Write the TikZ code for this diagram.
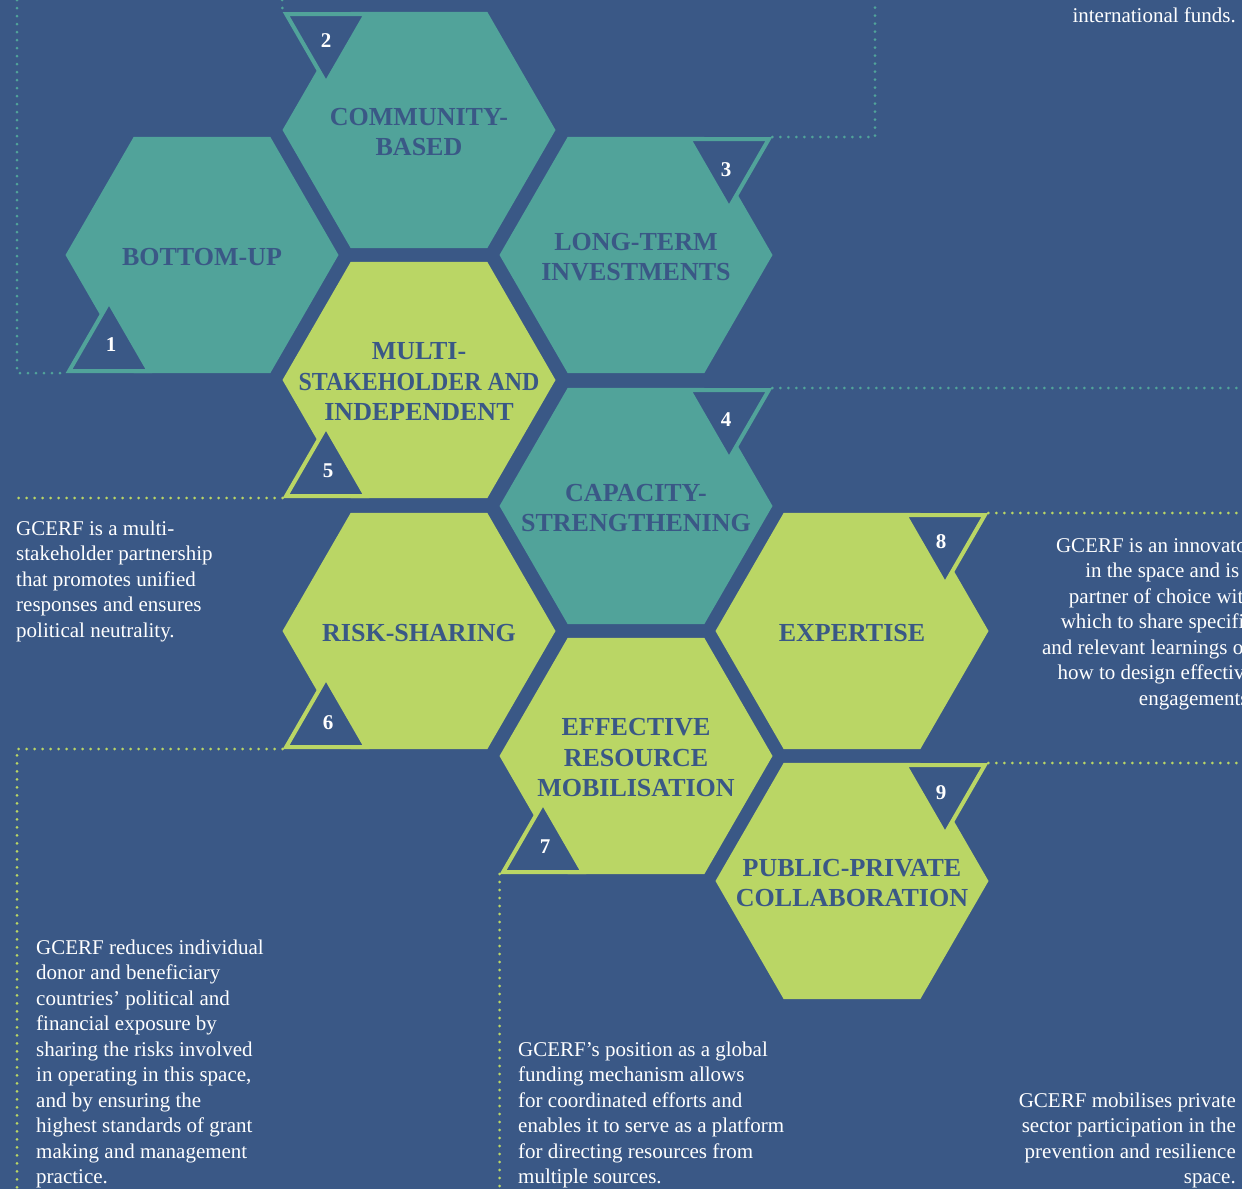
\documentclass[tikz,border=0pt]{standalone}
\usepackage{fontspec}
\setmainfont{Liberation Serif}
\usetikzlibrary{shapes.geometric,calc}
\definecolor{bg}{RGB}{58,88,134}
\definecolor{tealhex}{RGB}{81,163,154}
\definecolor{greenhex}{RGB}{186,214,101}

\begin{document}
\begin{tikzpicture}[x=1pt,y=-1pt,
    hexa/.style={regular polygon, regular polygon sides=6, minimum size=273pt, inner sep=0pt},
    hexlabel/.style={text=bg, align=center, inner sep=0pt, yshift=-2pt, font=\bfseries\fontsize{26}{30.5}\selectfont},
    numtri/.style={regular polygon, regular polygon sides=3, minimum size=92pt, inner sep=0pt,
        fill=bg, line width=4pt},
    downtri/.style={numtri, shape border rotate=180},
    numtext/.style={text=white, inner sep=0pt, font=\bfseries\fontsize{21}{21}\selectfont},
    dotline/.style={line width=3pt, dash pattern=on 0pt off 8pt, line cap=round},
    blurb/.style={text=white, inner sep=0pt, font=\fontsize{21}{25.5}\selectfont}]
    \useasboundingbox (0,0) rectangle (1242,1189);
    \fill[bg] (0,0) rectangle (1242,1189);
    \clip (0,0) rectangle (1242,1189);
    % hexagons
    \node[hexa, fill=tealhex] (h1) at (202,255) {};
    \node[hexa, fill=tealhex] (h2) at (419,130) {};
    \node[hexa, fill=tealhex] (h3) at (636,255) {};
    \node[hexa, fill=greenhex] (h5) at (419,380) {};
    \node[hexa, fill=tealhex] (h4) at (636,506) {};
    \node[hexa, fill=greenhex] (h6) at (419,631) {};
    \node[hexa, fill=greenhex] (h8) at (852,631) {};
    \node[hexa, fill=greenhex] (h7) at (636,756) {};
    \node[hexa, fill=greenhex] (h9) at (852,881) {};
    \node[hexlabel] (l1) at (h1) {BOTTOM-UP};
    \node[hexlabel] (l2) at (h2) {COMMUNITY-\\BASED};
    \node[hexlabel] (l3) at (h3) {LONG-TERM\\INVESTMENTS};
    \node[hexlabel] (l5) at (h5) {MULTI-\\\scalebox{0.92}[1]{STAKEHOLDER AND}\\INDEPENDENT};
    \node[hexlabel] (l4) at (h4) {CAPACITY-\\STRENGTHENING};
    \node[hexlabel] (l6) at (h6) {RISK-SHARING};
    \node[hexlabel] (l8) at (h8) {EXPERTISE};
    \node[hexlabel] (l7) at (h7) {EFFECTIVE\\RESOURCE\\MOBILISATION};
    \node[hexlabel] (l9) at (h9) {PUBLIC-PRIVATE\\COLLABORATION};
    % number markers
    \node[numtri, draw=tealhex] (t1) at ($(h1)+(-93,93)$) {};
    \node[downtri, draw=tealhex] (t2) at ($(h2)+(-93,-93)$) {};
    \node[downtri, draw=tealhex] (t3) at ($(h3)+(93,-93)$) {};
    \node[downtri, draw=tealhex] (t4) at ($(h4)+(93,-93)$) {};
    \node[numtri, draw=greenhex] (t5) at ($(h5)+(-93,93)$) {};
    \node[numtri, draw=greenhex] (t6) at ($(h6)+(-93,93)$) {};
    \node[numtri, draw=greenhex] (t7) at ($(h7)+(-93,93)$) {};
    \node[downtri, draw=greenhex] (t8) at ($(h8)+(93,-93)$) {};
    \node[downtri, draw=greenhex] (t9) at ($(h9)+(93,-93)$) {};
    \node[numtext] (n1) at ($(t1)+(2,-3)$) {1};
    \node[numtext] (n2) at ($(t2)+(0,4)$) {2};
    \node[numtext] (n3) at ($(t3)+(-3,8)$) {3};
    \node[numtext] (n4) at ($(t4)+(-3,7)$) {4};
    \node[numtext] (n5) at ($(t5)+(2,-2)$) {5};
    \node[numtext] (n6) at ($(t6)+(2,-1)$) {6};
    \node[numtext] (n7) at ($(t7)+(2,-2)$) {7};
    \node[numtext] (n8) at ($(t8)+(-4,4)$) {8};
    \node[numtext] (n9) at ($(t9)+(-4,5)$) {9};
    % dotted leaders
    \coordinate (p1) at (17,0);
    \coordinate (p2) at (282,0);
    \coordinate (p3) at (875,0);
    \coordinate (p4) at (1242,0);
    \coordinate (p6) at (17,1189);
    \coordinate (p7) at (499,1189);
    \draw[dotline, tealhex] (p1) |- (t1.210);
    \draw[dotline, tealhex] (p2) -- (t2.150);
    \draw[dotline, tealhex] (t3.30) -| (p3);
    \draw[dotline, tealhex] (t4.30) -- (t4.30 -| p4);
    \draw[dotline, greenhex] (t5.210) -- (t5.210 -| p1);
    \draw[dotline, greenhex] (t6.210) -| (p6);
    \draw[dotline, greenhex] (t7.210) -- (t7.210 |- p7);
    \draw[dotline, greenhex] (t8.30) -- (t8.30 -| p4);
    \draw[dotline, greenhex] (t9.30) -- (t9.30 -| p4);
    % texts
    \node[blurb, anchor=base east, align=right] (a) at (1236,22) {international funds.};
    \node[blurb, anchor=base west, align=left] (b) at (16,637)
        {GCERF is a multi-\\stakeholder partnership\\that promotes unified\\responses and ensures\\political neutrality.};
    \node[blurb, anchor=base east, align=right] (c) at (1254,705)
        {GCERF is an innovator\\in the space and is a\\partner of choice with\\which to share specific\\and relevant learnings on\\how to design effective\\engagements.};
    \node[blurb, anchor=base west, align=left] (d) at (36,1183.5)
        {GCERF reduces individual\\donor and beneficiary\\countries’ political and\\financial exposure by\\sharing the risks involved\\in operating in this space,\\and by ensuring the\\highest standards of grant\\making and management\\practice.};
    \node[blurb, anchor=base west, align=left] (e) at (518,1183.5)
        {GCERF’s position as a global\\funding mechanism allows\\for coordinated efforts and\\enables it to serve as a platform\\for directing resources from\\multiple sources.};
    \node[blurb, anchor=base east, align=right] (f) at (1236,1183.5)
        {GCERF mobilises private\\sector participation in the\\prevention and resilience\\space.};
\end{tikzpicture}
\end{document}
